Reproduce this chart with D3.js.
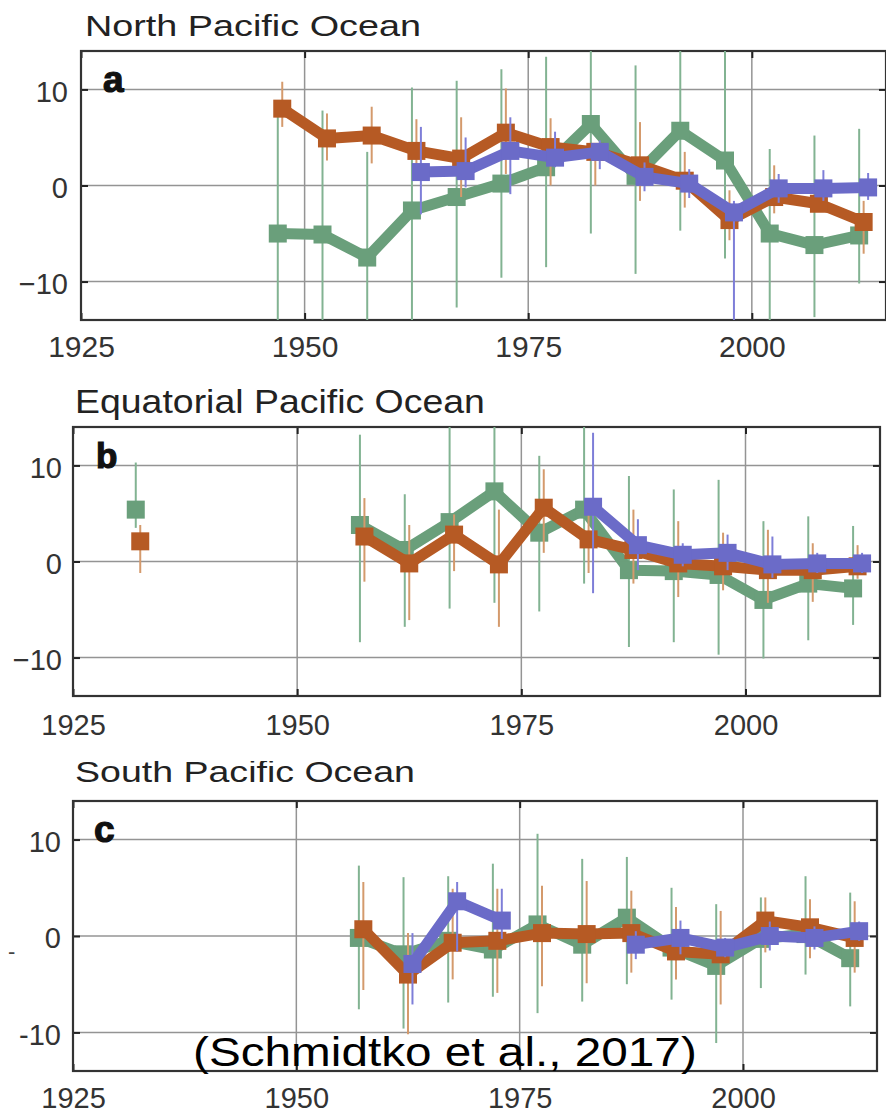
<!DOCTYPE html>
<html><head><meta charset="utf-8">
<script src="https://cdn.jsdelivr.net/npm/d3@7"></script>
<style>body{margin:0;background:#fff} svg{display:block}</style>
</head><body>
<svg id="chart" width="886" height="1113"></svg>
<script>
// ---------------- DATA ----------------
const years = [1932.5, 1937.5, 1942.5, 1947.5, 1952.5, 1957.5, 1962.5, 1967.5, 1972.5,
               1977.5, 1982.5, 1987.5, 1992.5, 1997.5, 2002.5, 2007.5, 2012.5];
const xTicks = [1925, 1950, 1975, 2000];
const yTicks = [-10, 0, 10];
const titles = ["North Pacific Ocean", "Equatorial Pacific Ocean", "South Pacific Ocean"];
const panelLabels = ["a", "b", "c"];
const seriesNames = ["green", "orange", "purple"];
const citation = "(Schmidtko et al., 2017)";

// North Pacific (panel a)
const northGreen     = [null, null, null, -5.0, -5.1, -7.5, -2.6, -1.2, 0.2, 1.9, 6.4, 1.0, 5.7, 2.6, -5.0, -6.2, -5.2];
const northGreenLo   = [null, null, null, -17.5, -17.8, -18.5, -15.4, -12.7, -9.6, -8.5, -5.0, -9.2, -4.7, -7.6, -16, -13.7, -10.2];
const northGreenHi   = [null, null, null, 7.7, 7.8, 3.5, 10.2, 10.9, 12.1, 13.4, 16, 12.5, 16, 16, 3.8, 5.2, 5.9];
const northOrange    = [null, null, null, 8.0, 4.9, 5.2, 3.6, 2.8, 5.5, 4.0, 3.5, 2.1, 0.5, -3.6, -1.2, -1.9, -3.8];
const northOrangeLo  = [null, null, null, 6.1, 2.6, 2.3, 0.5, -1.2, 1.2, 0.0, 0.0, -1.6, -2.3, -5.7, -2.9, -2.4, -7.1];
const northOrangeHi  = [null, null, null, 10.8, 7.5, 8.2, 6.9, 7.1, 10.1, 7.0, 4.2, 6.6, 3.5, -0.5, 2.1, 0.5, -1.6];
const northPurple    = [null, null, null, null, null, null, 1.4, 1.5, 3.6, 2.9, 3.5, 0.9, 0.2, -2.8, -0.3, -0.3, -0.2];
const northPurpleLo  = [null, null, null, null, null, null, -3.0, -0.2, -0.9, 1.9, 1.7, -0.6, -1.3, -16, -1.8, -1.6, -1.5];
const northPurpleHi  = [null, null, null, null, null, null, 6.1, 5.0, 7.1, 5.6, 4.7, 2.4, 1.7, -1.6, 1.2, 1.6, 1.3];

// Equatorial Pacific (panel b)
const equGreen       = [5.4, null, null, null, null, 3.8, 1.2, 4.1, 7.3, 3.0, 5.4, -0.9, -1.0, -1.4, -4.0, -2.3, -2.8];
const equGreenLo     = [3.5, null, null, null, null, -8.4, -6.8, -4.9, -4.3, -5.2, -2.3, -8.9, -8.4, -9.7, -10.1, -8.2, -6.6];
const equGreenHi     = [10.3, null, null, null, null, 13.2, 7.0, 16, 16, 11.0, 16, 8.9, 7.5, 8.5, 4.2, 4.7, 3.7];
const equOrange      = [2.1, null, null, null, null, 2.6, -0.2, 2.8, -0.3, 5.6, 2.3, 1.2, -0.2, -0.5, -0.9, -0.9, -0.5];
const equOrangeLo    = [-1.2, null, null, null, null, -2.1, -6.1, -1.0, -6.8, 0.9, -1.2, -2.3, -3.7, -3.0, -4.3, -4.2, -1.8];
const equOrangeHi    = [3.8, null, null, null, null, 6.6, 3.8, 4.9, 5.4, 9.6, 6.1, 5.4, 4.2, 3.0, 3.3, 1.9, 1.7];
const equPurple      = [null, null, null, null, null, null, null, null, null, null, 5.7, 1.7, 0.7, 0.9, -0.3, -0.2, -0.2];
const equPurpleLo    = [null, null, null, null, null, null, null, null, null, null, -3.3, -0.9, -0.5, -0.9, -1.7, -1.2, -1.2];
const equPurpleHi    = [null, null, null, null, null, null, null, null, null, null, 13.4, 4.4, 1.9, 2.8, 2.6, 0.9, 0.9];

// South Pacific (panel c)
const southGreen     = [null, null, null, null, null, -0.2, -1.9, -0.5, -1.4, 1.2, -0.9, 1.9, -1.2, -3.1, -0.3, 0.2, -2.3];
const southGreenLo   = [null, null, null, null, null, -7.6, -9.6, -6.9, -6.3, -8.0, -6.8, -5.0, -6.6, -11.1, -5.4, -4.0, -7.3];
const southGreenHi   = [null, null, null, null, null, 7.3, 6.1, 6.2, 7.5, 10.6, 8.0, 8.2, 5.0, 3.3, 4.0, 6.2, 4.5];
const southOrange    = [null, null, null, null, null, 0.7, -4.0, -0.7, -0.5, 0.3, 0.2, 0.3, -1.6, -1.9, 1.6, 0.9, -0.2];
const southOrangeLo  = [null, null, null, null, null, -5.6, -10.2, -4.5, -5.9, -5.2, -4.9, -3.8, -4.5, -7.1, -1.7, -2.3, -3.8];
const southOrangeHi  = [null, null, null, null, null, 5.6, 0.3, 4.9, 4.9, 5.2, 5.7, 4.7, 3.0, 2.6, 4.0, 3.8, 3.6];
const southPurple    = [null, null, null, null, null, null, -2.9, 3.6, 1.6, null, null, -0.9, -0.2, -1.2, 0.0, -0.2, 0.5];
const southPurpleLo  = [null, null, null, null, null, null, -7.1, -1.6, -0.3, null, null, -2.4, -1.9, -2.2, -1.5, -1.4, -0.5];
const southPurpleHi  = [null, null, null, null, null, null, 0.3, 5.6, 4.9, null, null, 0.5, 1.6, -0.2, 1.5, 1.0, 1.5];

// ---------------- STYLE / LAYOUT ----------------
const FONT = "'Liberation Sans', Arial, Helvetica, sans-serif";
const seriesStyle = {
  green:  {line: "#6a9f7b", bar: "#82b392", off: -0.5},
  orange: {line: "#b65a24", bar: "#d49a6c", off: 0},
  purple: {line: "#6b6bc8", bar: "#7e7ed8", off: 0.5}
};
const panels = [
  {box: {x0: 81, x1: 886, y0: 51, y1: 320}, title: {x: 85, y: 36, size: 30, len: 336},
   label: {x: 103, y: 92, size: 37}, xLabelSize: 30, xPad: 16, yPad: 13, minus: "\u2212",
   data: {green: [northGreen, northGreenLo, northGreenHi], orange: [northOrange, northOrangeLo, northOrangeHi], purple: [northPurple, northPurpleLo, northPurpleHi]}},
  {box: {x0: 73, x1: 880, y0: 427, y1: 696}, title: {x: 75, y: 413, size: 33, len: 410},
   label: {x: 96, y: 468, size: 35}, xLabelSize: 29, xPad: 18, yPad: 11, minus: "\u2212",
   data: {green: [equGreen, equGreenLo, equGreenHi], orange: [equOrange, equOrangeLo, equOrangeHi], purple: [equPurple, equPurpleLo, equPurpleHi]}},
  {box: {x0: 73, x1: 877, y0: 801, y1: 1071}, title: {x: 75, y: 782, size: 30, len: 340, clipTop: 761},
   label: {x: 94, y: 842, size: 37}, xLabelSize: 29, xPad: 16, yPad: 12, minus: "-",
   data: {green: [southGreen, southGreenLo, southGreenHi], orange: [southOrange, southOrangeLo, southOrangeHi], purple: [southPurple, southPurpleLo, southPurpleHi]}}
];

const svg = d3.select("#chart");
const defs = svg.append("defs");

// stretch a text horizontally to a target width (glyphs scaled, like the reference)
function fitText(sel, x, y, width) {
  const w = sel.node().getComputedTextLength();
  const s = w > 0 ? width / w : 1;
  sel.attr("x", 0).attr("y", 0).attr("transform", `translate(${x},${y}) scale(${s},1)`);
}

panels.forEach((p, i) => {
  const b = p.box;
  const x = d3.scaleLinear().domain([1925, 2015]).range([b.x0, b.x1]);
  const y = d3.scaleLinear().domain([-14, 14]).range([b.y1, b.y0]);
  const g = svg.append("g");

  // title
  let tg = g;
  if (p.title.clipTop) {
    defs.append("clipPath").attr("id", "tclip" + i).append("rect")
      .attr("x", 0).attr("y", p.title.clipTop).attr("width", 886).attr("height", 100);
    tg = g.append("g").attr("clip-path", `url(#tclip${i})`);
  }
  const tt = tg.append("text")
    .attr("font-family", FONT).attr("font-size", p.title.size).attr("fill", "#222")
    .text(titles[i]);
  fitText(tt, p.title.x, p.title.y, p.title.len);

  // clip for plot
  defs.append("clipPath").attr("id", "pclip" + i).append("rect")
    .attr("x", b.x0).attr("y", b.y0).attr("width", b.x1 - b.x0).attr("height", b.y1 - b.y0);

  // gridlines
  const grid = g.append("g").attr("stroke", "#949494").attr("stroke-width", 1.5);
  grid.selectAll(".gx").data(xTicks.filter(t => t > 1925)).join("line")
    .attr("x1", d => x(d)).attr("x2", d => x(d)).attr("y1", b.y0).attr("y2", b.y1);
  grid.selectAll(".gy").data(yTicks).join("line")
    .attr("y1", d => y(d)).attr("y2", d => y(d)).attr("x1", b.x0).attr("x2", b.x1);

  // axes
  const fmtY = d => (d < 0 ? p.minus + Math.abs(d) : String(d));
  const axL = g.append("g").attr("transform", `translate(${b.x0},0)`)
    .call(d3.axisLeft(y).tickValues(yTicks).tickSizeInner(-7).tickSizeOuter(0).tickPadding(p.yPad).tickFormat(fmtY));
  const axR = g.append("g").attr("transform", `translate(${b.x1},0)`)
    .call(d3.axisRight(y).tickValues(yTicks).tickSizeInner(-7).tickSizeOuter(0).tickFormat(""));
  const axB = g.append("g").attr("transform", `translate(0,${b.y1})`)
    .call(d3.axisBottom(x).tickValues(xTicks).tickSizeInner(-7).tickSizeOuter(0).tickPadding(p.xPad).tickFormat(d3.format("d")));
  const axT = g.append("g").attr("transform", `translate(0,${b.y0})`)
    .call(d3.axisTop(x).tickValues(xTicks).tickSizeInner(-7).tickSizeOuter(0).tickFormat(""));
  [axL, axR, axB, axT].forEach(a => {
    a.select(".domain").remove();
    a.selectAll(".tick line").attr("stroke", "#222").attr("stroke-width", 2);
    a.selectAll("text").attr("font-family", FONT).attr("fill", "#333");
  });
  axL.selectAll("text").attr("font-size", 29).attr("dy", "0.40em");
  axB.selectAll("text").attr("font-size", p.xLabelSize);

  // frame
  g.append("rect").attr("x", b.x0).attr("y", b.y0).attr("width", b.x1 - b.x0).attr("height", b.y1 - b.y0)
    .attr("fill", "none").attr("stroke", "#333").attr("stroke-width", 2.2);

  // series
  const plot = g.append("g").attr("clip-path", `url(#pclip${i})`);
  seriesNames.forEach(name => {
    const st = seriesStyle[name];
    const [vals, lo, hi] = p.data[name];
    const pts = years.map((yr, k) => ({yr: yr + st.off, v: vals[k], lo: lo[k], hi: hi[k]}));
    const valid = pts.filter(d => d.v != null);
    // error bars
    plot.append("g").selectAll("line").data(valid.filter(d => d.lo != null)).join("line")
      .attr("x1", d => x(d.yr)).attr("x2", d => x(d.yr))
      .attr("y1", d => y(d.lo)).attr("y2", d => y(d.hi))
      .attr("stroke", st.bar).attr("stroke-width", 2);
    // line
    const line = d3.line().defined(d => d.v != null).x(d => x(d.yr)).y(d => y(d.v));
    plot.append("path").datum(pts).attr("d", line)
      .attr("fill", "none").attr("stroke", st.line).attr("stroke-width", 11)
      .attr("stroke-linejoin", "round");
    // markers
    plot.append("g").selectAll("rect").data(valid).join("rect")
      .attr("x", d => x(d.yr) - 9).attr("y", d => y(d.v) - 9)
      .attr("width", 18).attr("height", 18).attr("fill", st.line);
  });

  // panel label
  g.append("text").attr("x", p.label.x).attr("y", p.label.y)
    .attr("font-family", FONT).attr("font-weight", "bold").attr("font-size", p.label.size)
    .attr("fill", "#111").attr("stroke", "#111").attr("stroke-width", 1.2).text(panelLabels[i]);
});

// stray mark left of panel c
svg.append("text").attr("x", 8).attr("y", 959).attr("font-family", FONT).attr("font-size", 22)
  .attr("fill", "#444").text("-");

// citation
const cit = svg.append("text")
  .attr("font-family", FONT).attr("font-size", 41).attr("fill", "#000")
  .text(citation);
fitText(cit, 193, 1066, 504);
</script>
</body></html>
